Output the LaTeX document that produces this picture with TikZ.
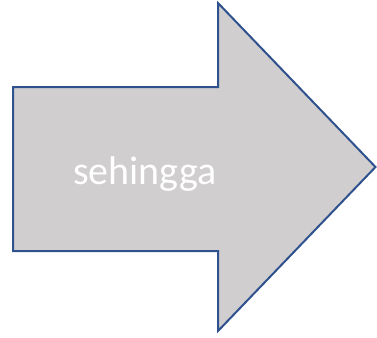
\documentclass[tikz,border=0pt]{standalone}
\usepackage{fontspec}
\setmainfont{Carlito}
\definecolor{arrowfill}{HTML}{D0CECE}
\definecolor{arrowline}{HTML}{2F528F}
\tikzset{
  bigarrow/.style={draw=arrowline, fill=arrowfill, line width=2pt, line join=miter},
  arrowlabel/.style={text=white, font=\fontsize{40}{48}\selectfont, inner sep=0pt}
}
\begin{document}
\begin{tikzpicture}[x=1pt, y=-1pt]
  \useasboundingbox (0,0) rectangle (377,337);
  % block arrow pointing right
  \draw[bigarrow] (13,87) -- (218,87) -- (218,3) -- (375.5,167) -- (218,331)
    -- (218,251) -- (13,251) -- cycle;
  \node[arrowlabel, anchor=base west] (label) at (73,184) {sehingga};
\end{tikzpicture}
\end{document}
